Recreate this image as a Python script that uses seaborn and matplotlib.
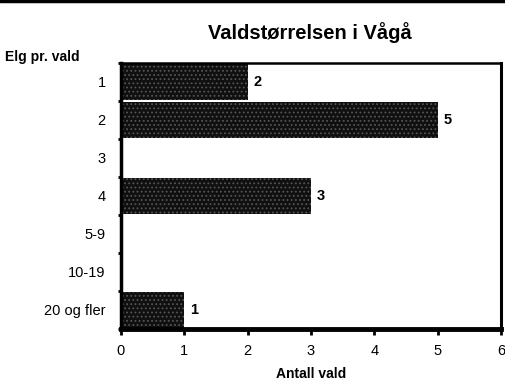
import matplotlib
matplotlib.use("Agg")
import matplotlib.pyplot as plt
from matplotlib.lines import Line2D
import seaborn as sns
import pandas as pd

categories = ["1", "2", "3", "4", "5-9", "10-19", "20 og fler"]
antall = [2, 5, 0, 3, 0, 0, 1]
x_ticks = [0, 1, 2, 3, 4, 5, 6]

sns.set_theme(style="white")
plt.rcParams["font.family"] = ["Liberation Sans", "DejaVu Sans"]
plt.rcParams["text.color"] = "black"
plt.rcParams["axes.labelcolor"] = "black"
plt.rcParams["xtick.color"] = "black"
plt.rcParams["ytick.color"] = "black"
plt.rcParams["hatch.linewidth"] = 0.8

df = pd.DataFrame({"Elg pr. vald": categories, "Antall vald": antall})

fig = plt.figure(figsize=(5.06, 3.83), dpi=100)
ax = fig.add_axes([0.239, 0.141, 0.751, 0.695])

sns.barplot(data=df, x="Antall vald", y="Elg pr. vald", order=categories,
            orient="h", color="#101010", saturation=1, width=0.94, ax=ax)

for p in ax.patches:
    p.set_facecolor("#101010")
    p.set_edgecolor("#555555")
    p.set_linewidth(0)
    p.set_hatch("....")

for i, v in enumerate(antall):
    if v > 0:
        ax.text(v + 0.09, i, str(v), va="center", ha="left",
                fontsize=10.5, fontweight="bold", color="black")

ax.set_xlim(0, 6)
ax.set_ylim(len(categories) - 0.5, -0.5)
ax.set_xticks(x_ticks)
ax.set_xticklabels([str(t) for t in x_ticks], fontsize=10.5, color="black")
ax.set_yticks(range(len(categories)))
ax.set_yticklabels(categories, fontsize=10.5, color="black")
ax.set_yticks([k - 0.5 for k in range(len(categories) + 1)], minor=True)

ax.tick_params(axis="x", which="major", direction="out", length=4, width=2,
               color="black", pad=7, bottom=True)
ax.tick_params(axis="y", which="major", length=0, pad=11, left=False)
ax.tick_params(axis="y", which="minor", direction="out", length=2.5, width=2,
               color="black", left=True)

ax.set_xlabel("Antall vald", fontsize=10, fontweight="bold", labelpad=6,
              color="black")
ax.set_ylabel("")

for side, lw in [("left", 2.5), ("bottom", 3.5), ("right", 2.2), ("top", 1.8)]:
    ax.spines[side].set_visible(True)
    ax.spines[side].set_color("black")
    ax.spines[side].set_linewidth(lw)

fig.suptitle("Valdstørrelsen i Vågå", x=0.613, y=0.915, fontsize=14.5,
             fontweight="bold", va="center", color="black")
fig.text(0.01, 1 - 57 / 383, "Elg pr. vald", fontsize=10, fontweight="bold",
         va="center", ha="left", color="black")
fig.add_artist(Line2D([0, 1], [0.997, 0.997], color="black", linewidth=2.5,
                      transform=fig.transFigure))

fig.savefig("out.png", dpi=100, facecolor="white")
